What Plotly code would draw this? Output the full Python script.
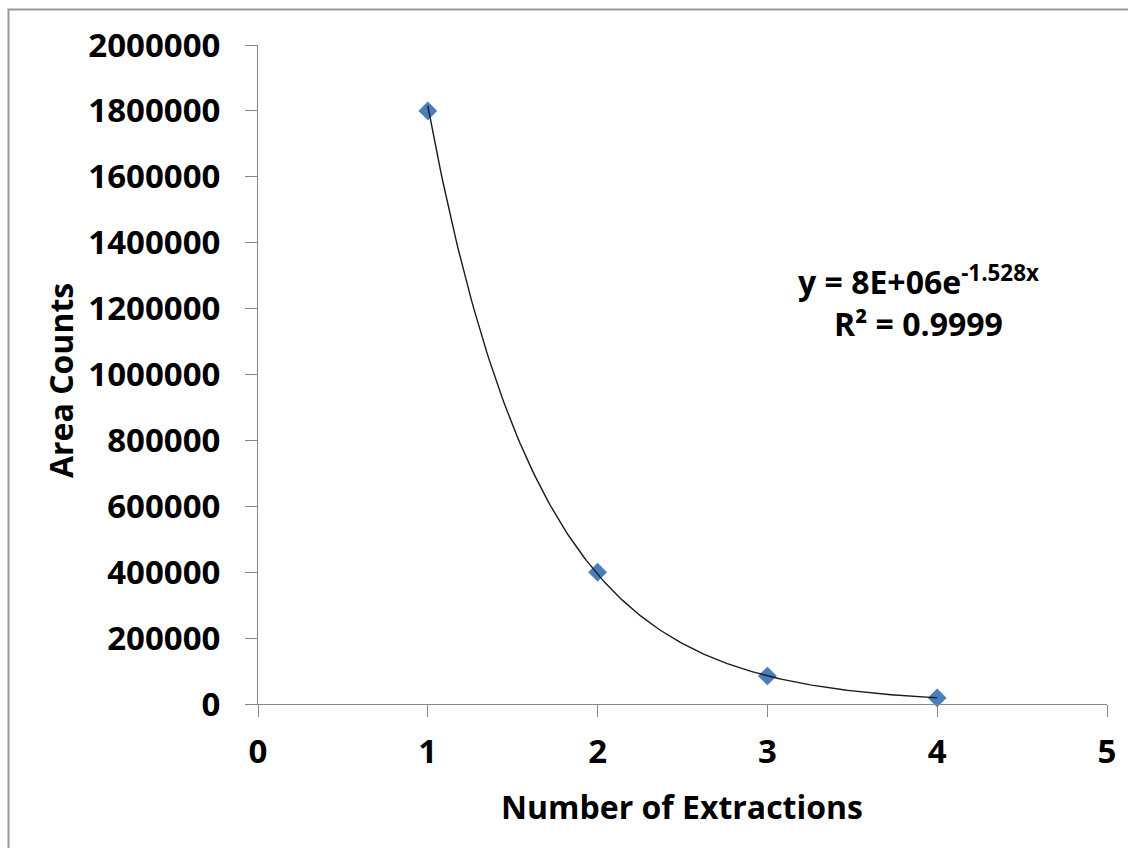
import numpy as np
import plotly.graph_objects as go

# Data
extractions = [1, 2, 3, 4]
area_counts = [1800000, 400000, 85000, 18500]
x_ticks = [0, 1, 2, 3, 4, 5]
y_ticks = [0, 200000, 400000, 600000, 800000, 1000000, 1200000, 1400000, 1600000, 1800000, 2000000]
eq_text = "y = 8E+06e<sup>-1.528x</sup>"
r2_text = "R² = 0.9999"

# Exponential trendline fitted from the data (as Excel does)
slope, intercept = np.polyfit(extractions, np.log(area_counts), 1)
xt = np.linspace(min(extractions), max(extractions), 200)
yt = np.exp(intercept) * np.exp(slope * xt)

W, H = 1128, 848
L, R, T, B = 258, 21, 45, 144
pw, ph = W - L - R, H - T - B

def px(xpix):
    return (xpix - L) / pw

def py(ypix):
    return (H - B - ypix) / ph

font = dict(family="Open Sans", size=33, color="black", weight="bold")

fig = go.Figure()
fig.add_trace(go.Scatter(
    x=extractions, y=area_counts, mode="markers",
    marker=dict(symbol="diamond", size=14, color="#4A7EBB",
                line=dict(color="#3D6FAE", width=0.5)),
    showlegend=False, cliponaxis=False))
fig.add_trace(go.Scatter(
    x=xt, y=yt, mode="lines", line=dict(color="#1a1a1a", width=1.4),
    showlegend=False, cliponaxis=False))

axis_common = dict(showgrid=False, zeroline=False, showline=True,
                   linecolor="#868686", linewidth=1, ticks="outside",
                   ticklen=12, tickcolor="#868686", tickwidth=1,
                   tickfont=font)

fig.update_xaxes(range=[0, 5], tickvals=x_ticks, ticktext=[str(v) for v in x_ticks],
                 ticklabelstandoff=6, **axis_common)
fig.update_yaxes(range=[0, 2000000], tickvals=y_ticks, ticktext=[str(v) for v in y_ticks],
                 ticklabelstandoff=18, **axis_common)

fig.update_layout(
    width=W, height=H,
    margin=dict(l=L, r=R, t=T, b=B, pad=0),
    plot_bgcolor="white", paper_bgcolor="white",
    shapes=[dict(type="rect", xref="paper", yref="paper",
                 x0=px(8.5), x1=px(1140), y0=py(860), y1=py(9.5),
                 line=dict(color="#999999", width=2), layer="below")],
    annotations=[
        dict(text="Number of Extractions", xref="paper", yref="paper",
             x=px(682), y=py(806), showarrow=False, font=dict(font, size=32),
             xanchor="center", yanchor="middle"),
        dict(text="Area Counts", xref="paper", yref="paper",
             x=px(60), y=py(381), showarrow=False, font=dict(font, size=32),
             textangle=-90, xanchor="center", yanchor="middle"),
        dict(text=eq_text + "<br>" + r2_text, xref="paper", yref="paper",
             x=px(918), y=py(301), showarrow=False, font=dict(font, size=32),
             align="center", xanchor="center", yanchor="middle"),
    ],
)

fig.write_html("out.html")
